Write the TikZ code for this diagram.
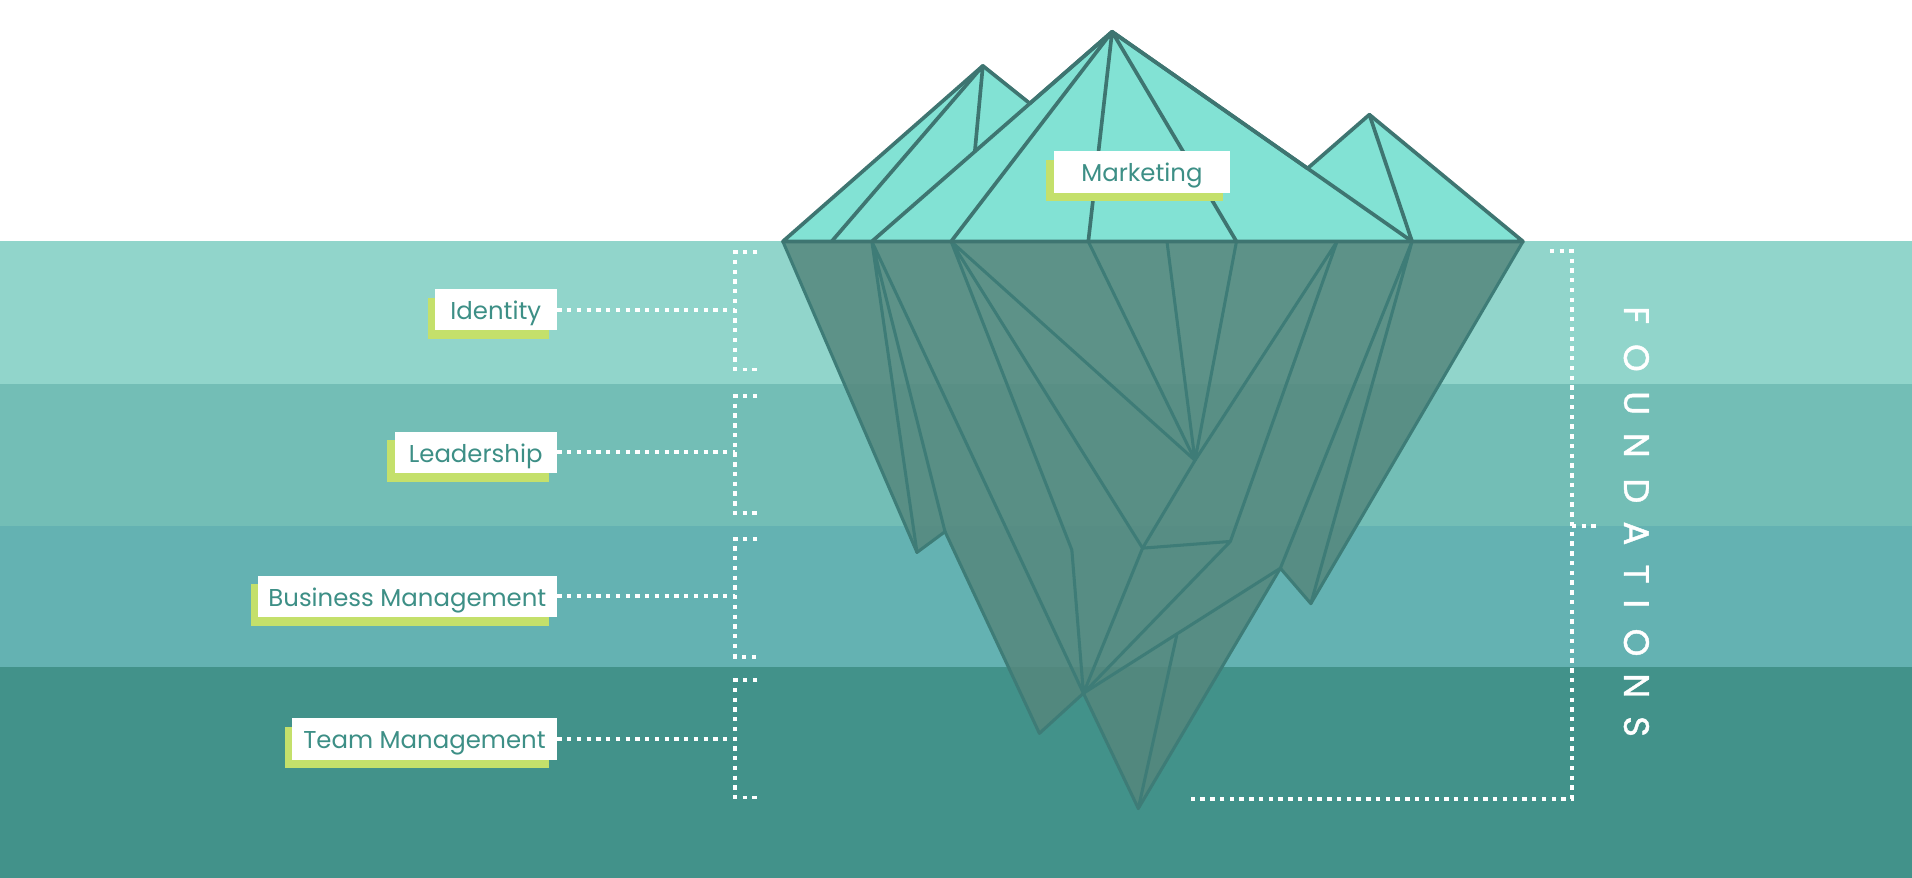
\documentclass[tikz,border=0pt]{standalone}
\usepackage{fontspec}
\setmainfont{Poppins}
\newfontfamily\foundfont[FakeBold=1.2]{Poppins}
\usetikzlibrary{shadows}
\definecolor{bandA}{HTML}{91D5CB}
\definecolor{bandB}{HTML}{73BEB6}
\definecolor{bandC}{HTML}{64B2B2}
\definecolor{bandD}{HTML}{42928A}
\definecolor{topfill}{HTML}{82E2D4}
\definecolor{topline}{HTML}{3E7571}
\definecolor{underfill}{HTML}{55877D}
\definecolor{underline}{HTML}{3E7C77}
\definecolor{labtext}{HTML}{3D8F86}
\definecolor{lgreen}{HTML}{C4E06B}
\tikzset{
  labbox/.style={fill=white, text=labtext, minimum height=17pt, inner xsep=0pt, inner ysep=0pt,
    text height=8pt, text depth=0pt,
    font=\fontsize{10}{12}\selectfont,
    general shadow={fill=lgreen, shadow xshift=-3pt, shadow yshift=-3.5pt}},
  dotline/.style={white, line width=1.6pt, dash pattern=on 1.8pt off 2.2pt},
  topedge/.style={topline, line width=1.5pt, line join=round, line cap=round},
  underedge/.style={underline, line width=1.25pt, line join=round, line cap=round},
  foundl/.style={white, rotate=-90, font=\foundfont\fontsize{14.5}{16}\selectfont, inner sep=0pt},
}
\begin{document}
\begin{tikzpicture}[x=0.5pt,y=-0.5pt]
\useasboundingbox (0,0) rectangle (1568,720);
% background bands
\fill[white] (0,0) rectangle (1568,198);
\fill[bandA] (0,198) rectangle (1568,315);
\fill[bandB] (0,315) rectangle (1568,431);
\fill[bandC] (0,431) rectangle (1568,547);
\fill[bandD] (0,547) rectangle (1568,720);

% coordinates
\coordinate (M) at (912,26);
\coordinate (L) at (806,54);
\coordinate (R) at (1123,94);
\coordinate (A) at (642,198);
\coordinate (B) at (1249,198);
\coordinate (w1) at (682,198);
\coordinate (w2) at (715,198);
\coordinate (w3) at (780,198);
\coordinate (w4) at (892.5,198);
\coordinate (u1) at (957,198);
\coordinate (w5) at (1014,198);
\coordinate (u2) at (1096.5,198);
\coordinate (w6) at (1158,198);
\coordinate (LM) at (844.5,84.8);
\coordinate (Lin) at (799.5,123.8);
\coordinate (RM) at (1072.3,138.1);
\coordinate (P1) at (752,453);
\coordinate (P2) at (775,436);
\coordinate (P3) at (852.4,601.4);
\coordinate (C) at (888.5,568.5);
\coordinate (T) at (933.5,663);
\coordinate (Q1) at (1050,466);
\coordinate (Q2) at (1075,495);
\coordinate (V) at (980,377.5);
\coordinate (K1) at (879,451);
\coordinate (K2) at (937,449.5);
\coordinate (K3) at (1009,444);
\coordinate (S) at (965,521);

% underwater part
\fill[underfill, fill opacity=0.85] (A) -- (P1) -- (P2) -- (P3) -- (C) -- (T) -- (Q1) -- (Q2) -- (B) -- cycle;
\draw[underedge] (A) -- (P1) -- (P2) -- (P3) -- (C) -- (T) -- (Q1) -- (Q2) -- (B);
\draw[underedge] (w2) -- (P1) (w2) -- (P2) (w2) -- (C);
\draw[underedge] (w3) -- (K1) -- (C) (w3) -- (K2) -- (C) (w3) -- (V);
\draw[underedge] (w4) -- (V) (u1) -- (V) (w5) -- (V);
\draw[underedge] (u2) -- (V) -- (K2) -- (K3) (u2) -- (K3) -- (C);
\draw[underedge] (w6) -- (Q1) -- (C) (w6) -- (Q2);
\draw[underedge] (S) -- (T);

% visible top
\fill[topfill] (A) -- (L) -- (LM) -- (M) -- (RM) -- (R) -- (B) -- cycle;
\draw[topedge] (L) -- (w1) (L) -- (Lin) (M) -- (w2) (M) -- (w3) (M) -- (w4) (M) -- (w5) (M) -- (w6) (R) -- (w6);
\draw[topedge] (A) -- (L) -- (LM) -- (M) -- (RM) -- (R) -- (B) -- cycle;

% labels
\node[labbox, minimum width=72.5pt] (mk) at (936.5,141) {Marketing};
\node[labbox, minimum width=50pt, anchor=east] (id) at (457,254) {Identity};
\node[labbox, minimum width=66.5pt, anchor=east] (ld) at (457,371) {Leadership};
\node[labbox, minimum width=122.5pt, anchor=east] (bm) at (457,489) {Business Management};
\node[labbox, minimum width=108.5pt, anchor=east] (tm) at (457,606) {Team Management};

% brackets
\coordinate (b1) at (603,254);
\coordinate (b2) at (603,371);
\coordinate (b3) at (603,489);
\coordinate (b4) at (603,606);
\draw[dotline] (621,207) -- (603,207) -- (603,303) -- (621,303);
\draw[dotline] (621,325) -- (603,325) -- (603,421) -- (621,421);
\draw[dotline] (621,442) -- (603,442) -- (603,538.5) -- (621,538.5);
\draw[dotline] (621,558) -- (603,558) -- (603,654) -- (621,654);
\draw[dotline] (id.east) -- (b1);
\draw[dotline] (ld.east) -- (b2);
\draw[dotline] (bm.east) -- (b3);
\draw[dotline] (tm.east) -- (b4);

% right bracket
\draw[dotline] (1271,206) -- (1289,206) -- (1289,655) -- (976,655);
\draw[dotline] (1289,431) -- (1310,431);

% FOUNDATIONS
\foreach \ch/\yy [count=\i] in {F/258.5, O/293.5, U/330.6, N/365.2, D/402.5, A/437.4, T/470.8, I/495.1, O/526.9, N/562.4, S/595.8}
  \node[foundl] (fd\i) at (1342,\yy) {\ch};
\end{tikzpicture}
\end{document}
